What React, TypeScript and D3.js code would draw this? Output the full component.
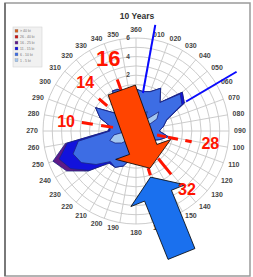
import React from "react";
import * as d3 from "d3";

const W = 253;
const H = 277;
const CX = 136;
const CY = 131;

// compass directions, every 10 degrees
const directions = d3.range(0, 360, 10);
const dirLabels = directions.map((d) => (d === 0 ? "360" : String(d).padStart(3, "0")));

// radial rings (ring units) and their labels
const rings = d3.range(1, 11);
const ringTicks = [6, 8, 10];
const ringTickLabels = ["2", "4", "6"];

// speed classes, outer first as in the legend
const speedBins = ["> 40 kt", "26 - 40 kt", "16 - 25 kt", "11 - 15 kt", "6 - 10 kt", "1 - 5 kt"];
const binColors = ["#d2601e", "#c81414", "#5e1a88", "#1212dc", "#3d6de4", "#a3c7f0"];

// frequency per speed band, one value per direction (000..350)
const band1to5 = [1.2, 1.0, 1.8, 2.4, 1.5, 3.2, 2.6, 1.0, 0.8, 0.8, 1.2, 0.8, 0.6, 0.5, 0.5, 0.5, 0.5, 0.6,
  0.7, 0.9, 1.2, 1.4, 1.2, 2.0, 2.6, 3.0, 2.4, 0.9, 0.9, 1.2, 1.5, 0.9, 1.1, 1.5, 1.5, 0.9];
const band6to10 = [3.3, 3.3, 2.7, 2.9, 2.5, 3.0, 3.1, 2.5, 2.2, 1.7, 2.3, 1.9, 1.4, 1.0, 1.0, 1.0, 1.0, 1.4,
  1.8, 2.1, 2.8, 3.1, 3.1, 3.6, 4.2, 4.2, 3.9, 1.9, 1.9, 2.9, 3.5, 2.1, 2.4, 3.5, 3.3, 2.1];
const band11to15 = [0, 0, 0, 0, 0, 0.3, 0.3, 0, 0, 0, 0, 0, 0, 0, 0, 0, 0, 0,
  0, 0, 0, 0, 0.2, 1.0, 1.3, 1.6, 1.2, 0.2, 0, 0, 0, 0, 0, 0, 0, 0];
const band16to25 = [0, 0, 0, 0, 0, 0, 0, 0, 0, 0, 0, 0, 0, 0, 0, 0, 0, 0,
  0, 0, 0, 0, 0, 0.1, 0.5, 0.7, 0.2, 0, 0, 0, 0, 0, 0, 0, 0, 0];
const band26to40 = directions.map(() => 0);
const bandOver40 = directions.map(() => 0);

// red annotation marks: bearing, dash segments (ring units), label
const markBearings = [340, 311, 279, 101, 141, 162];
const markSegments = [
  [[4.6, 5.9]],
  [[4.1, 5.3]],
  [[2.5, 3.8], [4.7, 5.9]],
  [[2.3, 3.3], [3.5, 4.6], [5.4, 6.1]],
  [[3.8, 6.0]],
  [[4.2, 5.0]],
];
const markLabels = ["16", "14", "10", "28", "32"];
const markLabelBearings = [339.2, 314, 278.1, 99.1, 138.7];
const markLabelRings = [8.4, 7.6, 7.6, 8.1, 8.3];
const markLabelSizes = [22, 16, 16, 16, 16];

// blue lines: bearing, from ring, to ring
const blueBearings = [10.3, 59.5];
const blueFrom = [4.15, 6.25];
const blueTo = [11.6, 12.55];

// arrows: tail / tip in polar (bearing, ring)
const arrowTails = [[340.8, 4.67], [159.7, 14.1]];
const arrowTips = [[159.4, 4.28], [162.5, 5.2]];
const arrowColors = ["#ff4400", "#1a70ee"];

const r = d3.scaleLinear().domain([0, 10]).range([0, 93]);
const rad = (deg: number) => (deg * Math.PI) / 180;
const pt = (deg: number, ring: number): [number, number] => [
  CX + r(ring) * Math.sin(rad(deg)),
  CY - r(ring) * Math.cos(rad(deg)),
];

function arrowPath(tail: [number, number], tip: [number, number]) {
  const shaft = 29, head = 58.5, headLen = 20;
  const [tx, ty] = pt(tail[0], tail[1]);
  const [px, py] = pt(tip[0], tip[1]);
  const len = Math.hypot(px - tx, py - ty);
  const ux = (px - tx) / len, uy = (py - ty) / len;
  const nx = -uy, ny = ux;
  const bx = px - ux * headLen, by = py - uy * headLen;
  const p = d3.path();
  p.moveTo(tx + nx * shaft / 2, ty + ny * shaft / 2);
  p.lineTo(bx + nx * shaft / 2, by + ny * shaft / 2);
  p.lineTo(bx + nx * head / 2, by + ny * head / 2);
  p.lineTo(px, py);
  p.lineTo(bx - nx * head / 2, by - ny * head / 2);
  p.lineTo(bx - nx * shaft / 2, by - ny * shaft / 2);
  p.lineTo(tx - nx * shaft / 2, ty - ny * shaft / 2);
  p.closePath();
  return p.toString();
}

const App = () => {
  const bands = [band1to5, band6to10, band11to15, band16to25, band26to40, bandOver40];
  const cum: number[][] = [];
  bands.forEach((b, k) => {
    cum.push(b.map((v, i) => v + (k > 0 ? cum[k - 1][i] : 0)));
  });
  // rose colours from inner band outward
  const roseColors = [...binColors].reverse();

  const radial = d3.lineRadial<number>()
    .angle((_, i) => rad(directions[i]))
    .radius((v) => r(v))
    .curve(d3.curveLinearClosed);

  const font = "'Liberation Sans', Arial, sans-serif";

  return (
    <svg width={W} height={H} style={{position: "absolute", left: 0, top: 0, background: "#fff"}}
      fontFamily={font}>
      <rect x={5} y={3} width={245} height={273} fill="#fff" stroke="#9a9a9a" strokeWidth={1.5}/>
      <line x1={5} y1={3} x2={5} y2={276} stroke="#666" strokeWidth={1.5}/>

      <text x={CX + 1} y={16} textAnchor="middle" dy="0.35em" fontSize={8.5} fontWeight="bold" fill="#333">
        10 Years
      </text>

      {/* grid */}
      <g fill="none" stroke="#c6c6c6" strokeWidth={0.9}>
        {rings.map((k) => (
          <circle key={k} cx={CX} cy={CY} r={r(k)}/>
        ))}
        {directions.map((d) => {
          const [x1, y1] = pt(d, 1);
          const [x2, y2] = pt(d, 10);
          return <line key={d} x1={x1} y1={y1} x2={x2} y2={y2}/>;
        })}
      </g>

      {/* direction labels */}
      <g fontSize={7} fontWeight="bold" fill="#444">
        {directions.map((d, i) => {
          const mid = d === 0 || d === 180;
          const [x, y] = pt(d, mid ? 10.95 : 10.55);
          const anchor = mid ? "middle" : d < 180 ? "start" : "end";
          return (
            <text key={d} x={x} y={y} dy="0.35em" textAnchor={anchor}>{dirLabels[i]}</text>
          );
        })}
      </g>

      {/* ring labels */}
      <g fontSize={6.5} fontWeight="bold" fill="#444">
        {ringTicks.map((k, i) => (
          <text key={k} x={CX - 8} y={CY - r(k)} dy="0.35em" textAnchor="middle">{ringTickLabels[i]}</text>
        ))}
      </g>

      {/* legend */}
      <g>
        <rect x={13} y={27} width={29} height={40} fill="#f1f1f1" stroke="#d4d4d4" strokeWidth={0.6}/>
        {speedBins.map((s, i) => (
          <g key={s}>
            <rect x={15} y={29.3 + i * 5.9} width={3} height={3} fill={binColors[i]} stroke="#888" strokeWidth={0.3}/>
            <text x={20} y={30.8 + i * 5.9} dy="0.35em" fontSize={3.5} fill="#777">{s}</text>
          </g>
        ))}
      </g>

      {/* rose */}
      <g transform={`translate(${CX},${CY})`} stroke="#1b2580" strokeWidth={0.8} strokeLinejoin="miter">
        {d3.range(cum.length - 1, -1, -1)
          .filter((k) => d3.sum(bands[k]) > 0)
          .map((k) => (
            <path key={k} d={radial(cum[k]) || ""} fill={roseColors[k]}/>
          ))}
      </g>

      {/* red marks */}
      <g stroke="#ff1400" strokeWidth={3}>
        {markBearings.map((b, i) =>
          markSegments[i].map(([a, c], j) => {
            const [x1, y1] = pt(b, a);
            const [x2, y2] = pt(b, c);
            return <line key={`${i}-${j}`} x1={x1} y1={y1} x2={x2} y2={y2}/>;
          })
        )}
      </g>

      {/* blue lines */}
      <g stroke="#0a0aff" strokeWidth={2}>
        {blueBearings.map((b, i) => {
          const [x1, y1] = pt(b, blueFrom[i]);
          const [x2, y2] = pt(b, blueTo[i]);
          return <line key={i} x1={x1} y1={y1} x2={x2} y2={y2}/>;
        })}
      </g>

      {/* arrows */}
      {arrowTails.map((t, i) => (
        <path key={i} d={arrowPath(t as [number, number], arrowTips[i] as [number, number])}
          fill={arrowColors[i]} stroke="#000" strokeWidth={0.8} strokeLinejoin="miter"/>
      ))}

      {/* red labels */}
      <g fill="#ff1400" fontWeight="bold" textAnchor="middle">
        {markLabels.map((l, i) => {
          const [x, y] = pt(markLabelBearings[i], markLabelRings[i]);
          return (
            <text key={l} x={x} y={y} dy="0.36em" fontSize={markLabelSizes[i]}>{l}</text>
          );
        })}
      </g>
    </svg>
  );
};

export default App;
